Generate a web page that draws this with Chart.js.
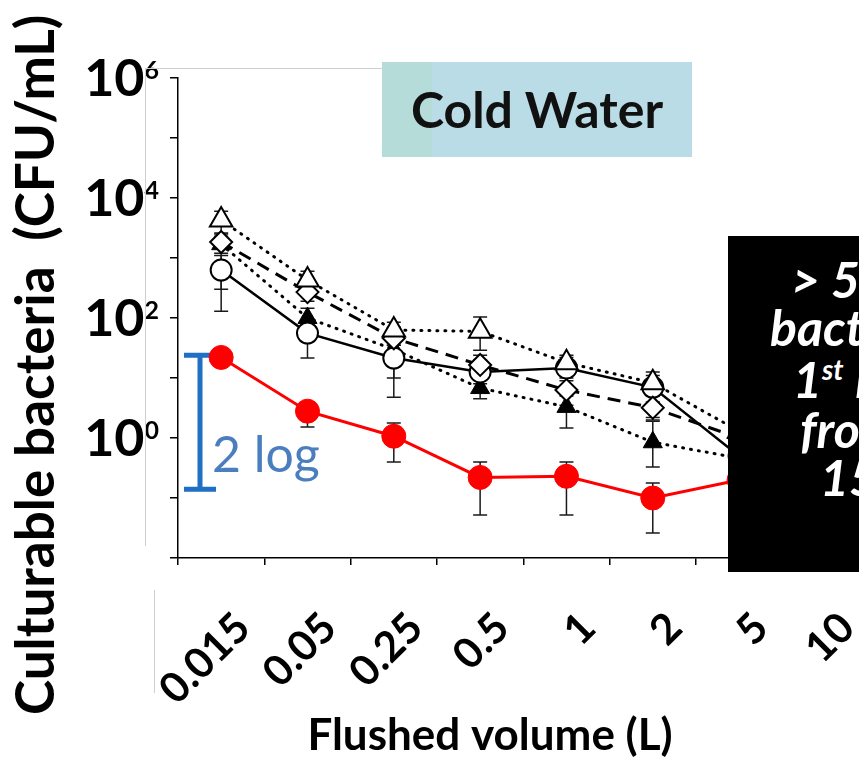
<!DOCTYPE html>
<html lang="en">
<head>
  <meta charset="UTF-8">
  <title>Cold Water - culturable bacteria vs flushed volume</title>
  <script src="https://cdn.jsdelivr.net/npm/chart.js"></script>
  <style>
    html, body {
      margin: 0;
      padding: 0;
      background: #fff;
      overflow: hidden;
    }

    .stage {
      position: relative;
      width: 859px;
      height: 760px;
      overflow: hidden;
      font-family: 'Lato', sans-serif;
    }

    #chart {
      position: absolute;
      left: 0;
      top: 0;
    }

    .thin-line {
      position: absolute;
      background: #cfcfcf;
    }

    .cold-box {
      position: absolute;
      left: 382px;
      top: 62px;
      width: 310px;
      height: 95px;
      background: linear-gradient(to right, #b5dcd9 0, #b5dcd9 50px, #badce6 50px);
      color: #111;
      font-weight: bold;
      font-size: 50px;
      line-height: 95px;
      text-align: center;
    }

    .note-box {
      position: absolute;
      left: 728px;
      top: 236px;
      width: 200px;
      height: 336px;
      background: #000;
      color: #fff;
      font-weight: bold;
      font-style: italic;
      font-size: 50px;
      line-height: 50px;
      overflow: hidden;
      white-space: nowrap;
    }

    .note-box span {
      position: absolute;
    }

    .note-box sup {
      font-size: 28px;
      line-height: 0;
    }
  </style>
</head>

<body>
  <div class="stage">
    <canvas id="chart" width="900" height="760"></canvas>
    <!-- faint frame lines left over from the pasted figure -->
    <div class="thin-line" style="left:145px; top:68px; width:1px; height:478px;"></div>
    <div class="thin-line" style="left:145px; top:68px; width:237px; height:1px;"></div>
    <div class="thin-line" style="left:154px; top:590px; width:1px; height:103px;"></div>
    <div class="cold-box">Cold Water</div>
    <div class="note-box">
      <span style="left:63px; top:18px;">&gt; 5 log</span>
      <span style="left:42px; top:66px;">bacteria</span>
      <span style="left:65px; top:118px;">1<sup>st</sup> L</span>
      <span style="left:72px; top:168px;">from</span>
      <span style="left:92px; top:216px;">15 L</span>
    </div>
  </div>

  <script>
    // flushed volume categories (L)
    const volumes = ['0.015', '0.05', '0.25', '0.5', '1', '2', '5', '10'];

    // y axis decades and the labelled ones
    const yDecades = [0.01, 0.1, 1, 10, 100, 1e3, 1e4, 1e5, 1e6];
    const yLabelValues = [1, 100, 1e4, 1e6];
    const yLabelExps = ['0', '2', '4', '6'];

    // culturable bacteria (CFU/mL)
    const redSeries = [22, 2.8, 1.07, 0.22, 0.23, 0.10, 0.2, null];
    const redLow = [17, 1.52, 0.4, 0.052, 0.052, 0.026, 0.1, null];
    const redHigh = [27, 3.6, 1.78, 0.4, 0.4, 0.178, 0.3, null];

    const circleSeries = [630, 56, 21.5, 12.6, 14.7, 7.0, 0.5, null];
    const circleLow = [130, 21.5, 4.8, 6, 7, 2.0, 0.3, null];
    const circleHigh = [1100, 90, 35, 20, 22, 11, 0.8, null];

    const triSeries = [4300, 430, 63, 60, 18, 8.3, 1.3, null];
    const triLow = [2500, 300, 35, 29, 10, 4, 0.8, null];
    const triHigh = [6000, 600, 85, 104, 24, 12.6, 2, null];

    const diamondSeries = [1850, 270, 46, 16.5, 6.3, 3.2, 1.0, null];
    const diamondLow = [300, 190, 10, 8, 3.5, 2.2, 0.6, null];
    const diamondHigh = [2600, 380, 70, 24, 9, 5, 1.5, null];

    const filledTriSeries = [1700, 100, 30, 6.8, 3.3, 0.85, 0.46, null];
    const filledTriLow = [1200, 60, 18, 4.5, 1.47, 0.33, 0.3, null];
    const filledTriHigh = [2300, 146, 45, 10, 5, 1.9, 0.7, null];

    // "2 log" bracket, in CFU/mL
    const bracketRange = [0.14, 24];

    Chart.defaults.font.family = 'Lato';
    Chart.defaults.color = '#000';

    const errorBars = {
      id: 'errorBars',
      beforeDatasetsDraw(chart) {
        const { ctx, scales: { x, y } } = chart;
        ctx.save();
        ctx.strokeStyle = '#1a1a1a';
        ctx.lineWidth = 1.5;
        chart.data.datasets.forEach(ds => {
          ds.errLow.forEach((lo, i) => {
            const hi = ds.errHigh[i];
            if (lo == null || hi == null) return;
            const px = x.getPixelForValue(i);
            const y1 = y.getPixelForValue(lo);
            const y2 = y.getPixelForValue(hi);
            ctx.beginPath();
            ctx.moveTo(px, y1); ctx.lineTo(px, y2);
            ctx.moveTo(px - 7, y1); ctx.lineTo(px + 7, y1);
            ctx.moveTo(px - 7, y2); ctx.lineTo(px + 7, y2);
            ctx.stroke();
          });
        });

        // blue 2 log bracket
        const bx = chart.chartArea.left + 22;
        const top = y.getPixelForValue(bracketRange[1]);
        const bottom = y.getPixelForValue(bracketRange[0]);
        ctx.strokeStyle = '#1f6fc4';
        ctx.lineWidth = 5;
        ctx.beginPath();
        ctx.moveTo(bx, top); ctx.lineTo(bx, bottom);
        ctx.moveTo(bx - 16, top); ctx.lineTo(bx + 16, top);
        ctx.moveTo(bx - 16, bottom); ctx.lineTo(bx + 16, bottom);
        ctx.stroke();
        ctx.fillStyle = '#4a7ebf';
        ctx.font = '50px Lato';
        ctx.textAlign = 'left';
        ctx.textBaseline = 'alphabetic';
        ctx.fillText('2 log', bx + 12, bottom - 17);
        ctx.restore();
      }
    };

    const axisText = {
      id: 'axisText',
      afterDraw(chart) {
        const { ctx, scales: { y } } = chart;
        ctx.save();
        ctx.fillStyle = '#000';
        ctx.textBaseline = 'alphabetic';

        // 10^n tick labels
        yLabelValues.forEach((v, i) => {
          const py = y.getPixelForValue(v);
          ctx.font = 'bold 25px Lato';
          const expW = ctx.measureText(yLabelExps[i]).width;
          ctx.textAlign = 'left';
          ctx.fillText(yLabelExps[i], 159 - expW, py + 1);
          ctx.font = 'bold 52px Lato';
          ctx.textAlign = 'right';
          ctx.fillText('10', 159 - expW, py + 18);
        });

        // y axis title
        ctx.save();
        ctx.translate(54, 715);
        ctx.rotate(-Math.PI / 2);
        ctx.textAlign = 'left';
        ctx.font = 'bold 53px Lato';
        ctx.fillText('Culturable bacteria  (CFU/mL)', 0, 0);
        ctx.restore();

        // x axis title
        ctx.textAlign = 'center';
        ctx.font = 'bold 44px Lato';
        ctx.fillText('Flushed volume (L)', 490, 750);
        ctx.restore();
      }
    };

    new Chart(document.getElementById('chart'), {
      type: 'line',
      data: {
        labels: volumes,
        datasets: [
          {
            data: redSeries, errLow: redLow, errHigh: redHigh,
            borderColor: '#ff0000', borderWidth: 3,
            pointStyle: 'circle', pointRadius: 12,
            pointBackgroundColor: '#ff0000', pointBorderColor: '#ff0000', pointBorderWidth: 1,
            order: 0
          },
          {
            data: triSeries, errLow: triLow, errHigh: triHigh,
            borderColor: '#000', borderWidth: 3, borderDash: [1, 7], borderCapStyle: 'round',
            pointStyle: 'triangle', pointRadius: 13,
            pointBackgroundColor: '#fff', pointBorderColor: '#000', pointBorderWidth: 2,
            order: 1
          },
          {
            data: diamondSeries, errLow: diamondLow, errHigh: diamondHigh,
            borderColor: '#000', borderWidth: 3, borderDash: [13, 8],
            pointStyle: 'rectRot', pointRadius: 11,
            pointBackgroundColor: '#fff', pointBorderColor: '#000', pointBorderWidth: 2,
            order: 2
          },
          {
            data: circleSeries, errLow: circleLow, errHigh: circleHigh,
            borderColor: '#000', borderWidth: 2.5,
            pointStyle: 'circle', pointRadius: 10.5,
            pointBackgroundColor: '#fff', pointBorderColor: '#000', pointBorderWidth: 2,
            order: 3
          },
          {
            data: filledTriSeries, errLow: filledTriLow, errHigh: filledTriHigh,
            borderColor: '#000', borderWidth: 3, borderDash: [1, 7], borderCapStyle: 'round',
            pointStyle: 'triangle', pointRadius: 11,
            pointBackgroundColor: '#000', pointBorderColor: '#000', pointBorderWidth: 1,
            order: 4
          }
        ]
      },
      options: {
        responsive: false,
        animation: false,
        layout: { padding: { top: 78, right: 15, bottom: 0, left: 0 } },
        plugins: {
          legend: { display: false },
          tooltip: { enabled: false }
        },
        scales: {
          x: {
            type: 'category',
            offset: true,
            afterFit: axis => { axis.height = 202; },
            grid: { offset: true, drawOnChartArea: false, drawTicks: true, tickLength: 7, color: '#000', lineWidth: 1.5 },
            border: { display: true, color: '#000', width: 1.5 },
            ticks: {
              autoSkip: false, minRotation: 45, maxRotation: 45, padding: 38, labelOffset: 22,
              color: '#000', font: { family: 'Lato', weight: 'bold', size: 42 }
            }
          },
          y: {
            type: 'logarithmic',
            min: 0.01,
            max: 1e6,
            afterBuildTicks: axis => { axis.ticks = yDecades.map(v => ({ value: v })); },
            afterFit: axis => { axis.width = 178; },
            grid: { drawOnChartArea: false, drawTicks: true, tickLength: 8, color: '#000', lineWidth: 1.5 },
            border: { display: true, color: '#000', width: 1.5 },
            ticks: { display: false }
          }
        }
      },
      plugins: [errorBars, axisText]
    });
  </script>
</body>

</html>
